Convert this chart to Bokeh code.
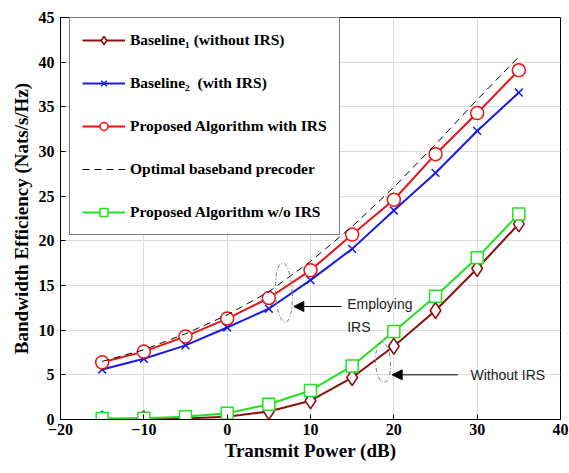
from bokeh.plotting import figure
from bokeh.models import Legend, LegendItem, Arrow, NormalHead, Label, FixedTicker
from bokeh.embed import file_html
from bokeh.resources import INLINE

power = [-15, -10, -5, 0, 5, 10, 15, 20, 25, 30, 35]
baseline1 = [0.05, 0.1, 0.1, 0.3, 0.9, 2.1, 4.7, 8.2, 12.2, 16.9, 21.9]
baseline2 = [5.6, 6.8, 8.3, 10.3, 12.4, 15.6, 19.1, 23.4, 27.6, 32.3, 36.6]
proposed_irs = [6.4, 7.6, 9.3, 11.3, 13.6, 16.7, 20.7, 24.6, 29.7, 34.3, 39.1]
optimal = [6.5, 7.8, 9.6, 11.7, 14.3, 17.7, 21.6, 26.0, 30.8, 35.8, 40.6]
proposed_noirs = [0.1, 0.15, 0.3, 0.7, 1.7, 3.25, 6.0, 9.85, 13.8, 18.1, 23.0]

x_ticks = [-20, -10, 0, 10, 20, 30, 40]
y_ticks = [0, 5, 10, 15, 20, 25, 30, 35, 40, 45]

# annotation ellipses: (x, y, width, height)
ell_x = [6.8, 18.7]
ell_y = [14.2, 6.4]
ell_w = [2.0, 1.8]
ell_h = [6.7, 4.5]

SERIF = "Liberation Serif"
SANS = "Liberation Sans"

p = figure(width=569, height=473, output_backend="svg", toolbar_location=None,
           x_range=(-20, 40), y_range=(0, 45),
           min_border_left=60, min_border_right=9, min_border_top=17, min_border_bottom=54)

p.xaxis.ticker = FixedTicker(ticks=x_ticks)
p.yaxis.ticker = FixedTicker(ticks=y_ticks)
for ax in (p.xaxis, p.yaxis):
    ax.major_label_text_font = SERIF
    ax.major_label_text_font_style = "bold"
    ax.major_label_text_font_size = "16px"
    ax.major_label_text_color = "black"
    ax.axis_label_text_font = SERIF
    ax.axis_label_text_font_style = "bold"
    ax.axis_label_text_color = "black"
    ax.axis_label_text_font_size = "19px"
    ax.major_tick_in = 5
    ax.major_tick_out = 0
    ax.minor_tick_line_color = None
    ax.axis_line_color = "black"
    ax.major_tick_line_color = "black"
p.xaxis.axis_label = "Transmit Power (dB)"
p.yaxis.axis_label = "Bandwidth Efficiency (Nats/s/Hz)"
p.xaxis.axis_label_standoff = 2
p.yaxis.axis_label_standoff = 4
p.xaxis.major_label_standoff = 4
p.yaxis.major_label_standoff = 6

p.grid.grid_line_color = "#dcdcdc"
p.grid.grid_line_width = 1
p.outline_line_color = "black"
p.outline_line_alpha = 1.0
p.outline_line_width = 1

brown = "#8b0f0f"
blue = "#1a1ae6"
red = "#ee1111"
green = "#22e022"

l1 = p.line(power, baseline1, color=brown, line_width=2)
m1 = p.scatter(power, baseline1, marker="diamond", size=16, line_color=brown, fill_color="white", line_width=1.5)
l2 = p.line(power, baseline2, color=blue, line_width=2)
m2 = p.scatter(power, baseline2, marker="x", size=11, line_color=blue, line_width=1.5)
l3 = p.line(power, proposed_irs, color=red, line_width=2)
m3 = p.scatter(power, proposed_irs, marker="circle", size=13, line_color=red, fill_color="white", line_width=1.5)
l4 = p.line(power, optimal, color="black", line_width=1, line_dash="7 5")
l5 = p.line(power, proposed_noirs, color=green, line_width=2)
m5 = p.scatter(power, proposed_noirs, marker="square", size=12, line_color=green, fill_color="white", line_width=1.5)

p.ellipse(ell_x, ell_y, width=ell_w, height=ell_h, angle=0.05, fill_color=None,
          line_color="#777777", line_width=1, line_dash="4 2 1 2")

head = dict(size=10, fill_color="black", line_color="black")
p.add_layout(Arrow(end=NormalHead(**head), x_start=13.7, y_start=12.65, x_end=8.0, y_end=12.65,
                   line_color="black", line_width=1))
p.add_layout(Arrow(end=NormalHead(**head), x_start=27.7, y_start=5.0, x_end=19.8, y_end=5.0,
                   line_color="black", line_width=1))
lab = dict(text_font=SANS, text_font_size="14px", text_color="#222222", text_baseline="middle")
p.add_layout(Label(x=14.4, y=12.9, text="Employing", **lab))
p.add_layout(Label(x=14.4, y=10.4, text="IRS", **lab))
p.add_layout(Label(x=29.2, y=5.0, text="Without IRS", **lab))

legend = Legend(items=[
    LegendItem(label="Baseline\u2081 (without IRS)", renderers=[l1, m1]),
    LegendItem(label="Baseline\u2082  (with IRS)", renderers=[l2, m2]),
    LegendItem(label="Proposed Algorithm with IRS", renderers=[l3, m3]),
    LegendItem(label="Optimal baseband precoder", renderers=[l4]),
    LegendItem(label="Proposed Algorithm w/o IRS", renderers=[l5, m5]),
], location=(9, 184))
legend.label_text_font = SERIF
legend.label_text_font_style = "bold"
legend.label_text_font_size = "15.5px"
legend.label_text_color = "black"
legend.glyph_width = 43
legend.glyph_height = 20
legend.label_height = 20
legend.spacing = 23
legend.padding = 12
legend.margin = 0
legend.label_standoff = 5
legend.border_line_color = "black"
legend.border_line_width = 1
legend.background_fill_alpha = 1
p.add_layout(legend)

open("out.html", "w").write(file_html(p, INLINE))
